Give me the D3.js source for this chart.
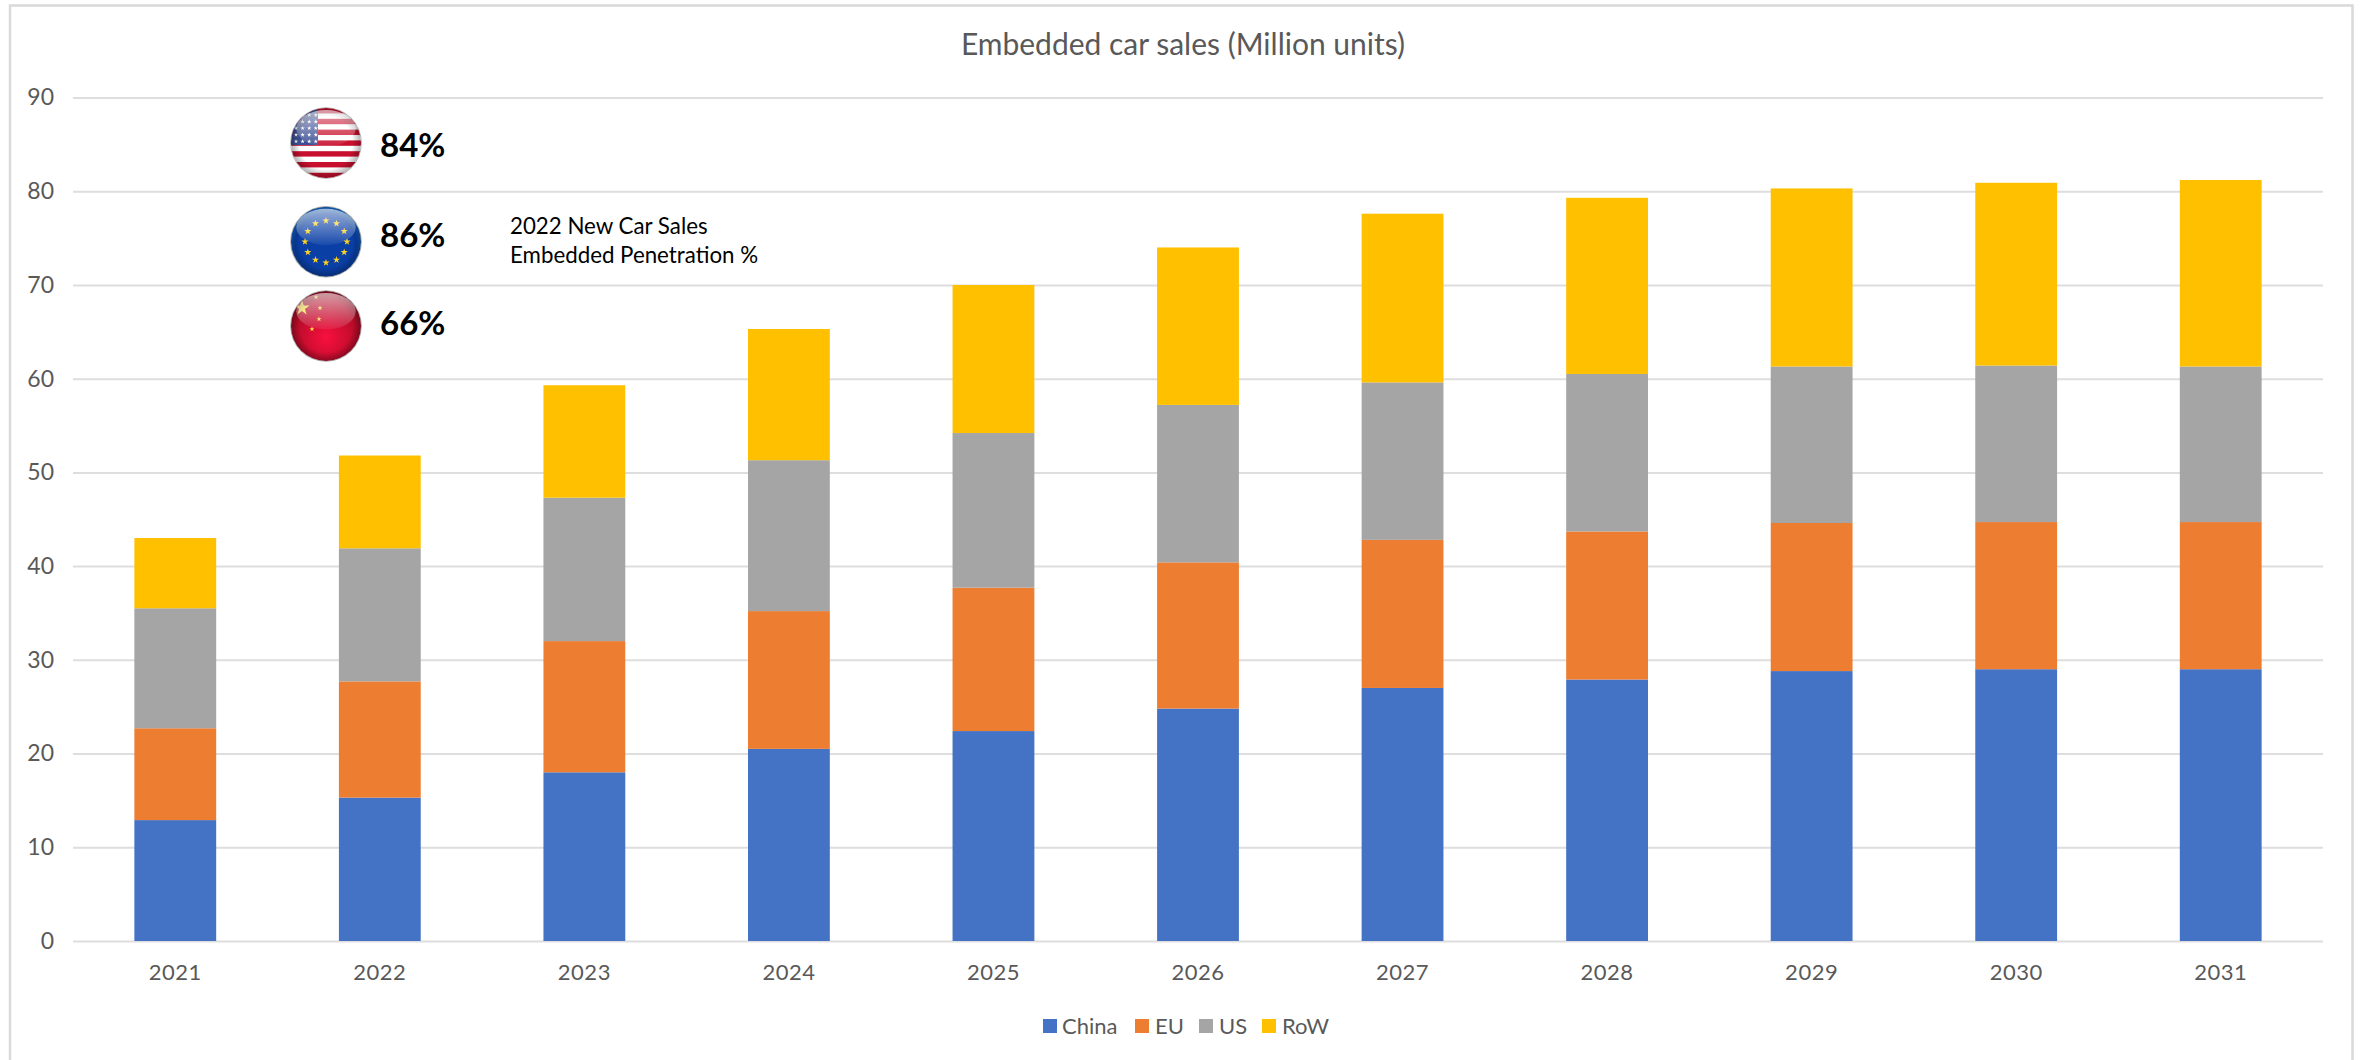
<!DOCTYPE html>
<html>
<head>
<meta charset="utf-8">
<script src="https://cdn.jsdelivr.net/npm/d3@7"></script>
<style>
  html, body { margin: 0; padding: 0; background: #fff; }
  svg { display: block; }
  text { font-family: Lato, "Open Sans", sans-serif; }
</style>
</head>
<body>
<svg id="chart" width="2361" height="1060"></svg>
<script>
// Embedded car sales by region, million units per year
const years = ["2021","2022","2023","2024","2025","2026","2027","2028","2029","2030","2031"];
const china = [12.9,15.3,18.0,20.5,22.4,24.8,27.0,27.9,28.8,29.0,29.0];
const eu    = [ 9.8,12.4,14.0,14.7,15.3,15.6,15.8,15.8,15.8,15.7,15.7];
const us    = [12.8,14.2,15.3,16.1,16.5,16.8,16.8,16.8,16.7,16.7,16.6];
const row   = [ 7.5, 9.9,12.0,14.0,15.8,16.8,18.0,18.8,19.0,19.5,19.9];
const seriesNames = ["China","EU","US","RoW"];
const seriesColors = ["#4472C4","#ED7D31","#A5A5A5","#FFC000"];
const yTicks = [0,10,20,30,40,50,60,70,80,90];

// Penetration call-outs
const penetrationLabels = ["84%","86%","66%"];
const noteLines = ["2022 New Car Sales","Embedded Penetration %"];

const svg = d3.select("#chart");
const plotLeft = 73, plotRight = 2323, plotTop = 97.5, plotBottom = 941;

const x = d3.scaleBand().domain(years).range([plotLeft, plotRight]).paddingInner(0.6).paddingOuter(0.3);
const y = d3.scaleLinear().domain([0, 90]).range([plotBottom, plotTop]);

const rows = years.map((year, i) => ({ year, China: china[i], EU: eu[i], US: us[i], RoW: row[i] }));
const stacked = d3.stack().keys(seriesNames)(rows);

// Outer chart frame, open along the bottom edge
svg.append("path")
  .attr("d", "M10,1060V5.5H2352.5V1060")
  .attr("fill", "none").attr("stroke", "#D9D9D9").attr("stroke-width", 2.5);

svg.append("text")
  .attr("x", 1183).attr("y", 55).attr("text-anchor", "middle")
  .attr("font-size", 30).attr("fill", "#595959")
  .text("Embedded car sales (Million units)");

// Gridlines and value labels
const yAxis = svg.append("g").attr("transform", `translate(${plotLeft},0)`)
  .call(d3.axisLeft(y).tickValues(yTicks).tickSize(-(plotRight - plotLeft)).tickPadding(19));
yAxis.select(".domain").remove();
yAxis.selectAll(".tick line").attr("stroke", "#DEDEDE").attr("stroke-width", 2);
yAxis.selectAll(".tick text").attr("font-size", 23).attr("fill", "#595959")
  .style("font-family", "Lato");

// Stacked bars
svg.append("g").selectAll("g").data(stacked).join("g")
  .attr("fill", (d, i) => seriesColors[i])
  .selectAll("rect").data(d => d).join("rect")
  .attr("x", d => x(d.data.year))
  .attr("width", x.bandwidth())
  .attr("y", d => y(d[1]))
  .attr("height", d => y(d[0]) - y(d[1]));

// Category labels
const xAxis = svg.append("g").attr("transform", `translate(0,${plotBottom})`)
  .call(d3.axisBottom(x).tickSize(0).tickPadding(23));
xAxis.select(".domain").remove();
xAxis.selectAll(".tick text").attr("font-size", 22).attr("fill", "#595959")
  .attr("letter-spacing", 0.5).style("font-family", "Lato");

// Legend
const legendItems = [
  { at: 1043, text: 1062 },
  { at: 1135, text: 1155 },
  { at: 1199, text: 1219 },
  { at: 1262, text: 1282 }
];
const legend = svg.append("g");
seriesNames.forEach((name, i) => {
  legend.append("rect").attr("x", legendItems[i].at).attr("y", 1019)
    .attr("width", 14).attr("height", 14).attr("fill", seriesColors[i]);
  legend.append("text").attr("x", legendItems[i].text).attr("y", 1034)
    .attr("font-size", 22).attr("fill", "#595959").text(name);
});

// Glossy badge shading
const defs = svg.append("defs");
const gloss = defs.append("linearGradient").attr("id", "gloss").attr("x1", 0).attr("x2", 0).attr("y1", 0).attr("y2", 1);
gloss.append("stop").attr("offset", 0).attr("stop-color", "#fff").attr("stop-opacity", 0.6);
gloss.append("stop").attr("offset", 1).attr("stop-color", "#fff").attr("stop-opacity", 0.06);
const rim = defs.append("radialGradient").attr("id", "rim").attr("cx", 0.5).attr("cy", 0.5).attr("r", 0.5);
rim.append("stop").attr("offset", 0.75).attr("stop-color", "#000").attr("stop-opacity", 0);
rim.append("stop").attr("offset", 1).attr("stop-color", "#000").attr("stop-opacity", 0.3);
const euBall = defs.append("radialGradient").attr("id", "euBall").attr("cx", 0.5).attr("cy", 0.55).attr("r", 0.55);
euBall.append("stop").attr("offset", 0).attr("stop-color", "#0a3fa6");
euBall.append("stop").attr("offset", 0.8).attr("stop-color", "#0a3fa6");
euBall.append("stop").attr("offset", 1).attr("stop-color", "#1a78e0");
const cnBall = defs.append("radialGradient").attr("id", "cnBall").attr("cx", 0.5).attr("cy", 0.66).attr("r", 0.62);
cnBall.append("stop").attr("offset", 0).attr("stop-color", "#f9103f");
cnBall.append("stop").attr("offset", 1).attr("stop-color", "#a10a22");

const badgeRadius = 35;
const star = d3.symbol().type(d3.symbolStar);
function badge(cx, cy, id, paint) {
  const R = badgeRadius;
  defs.append("clipPath").attr("id", id).append("circle").attr("r", R);
  const g = svg.append("g").attr("transform", `translate(${cx},${cy})`);
  g.append("circle").attr("r", R + 0.8).attr("fill", "#a8a8a8");
  const inner = g.append("g").attr("clip-path", `url(#${id})`);
  paint(inner, R);
  inner.append("circle").attr("r", R).attr("fill", "url(#rim)");
  inner.append("ellipse").attr("cy", -R * 0.42).attr("rx", R * 0.85).attr("ry", R * 0.52).attr("fill", "url(#gloss)");
}

badge(326, 143, "clip-us", (g, R) => {
  g.append("rect").attr("x", -R).attr("y", -R).attr("width", 2 * R).attr("height", 2 * R).attr("fill", "#fff");
  d3.range(7).forEach(i => {
    g.append("rect").attr("x", -R).attr("width", 2 * R)
      .attr("y", -R + i * 10.8).attr("height", 5.4).attr("fill", "#c8102e");
  });
  g.append("rect").attr("x", -R).attr("y", -R).attr("width", 27).attr("height", 37).attr("fill", "#3c4f94");
  d3.range(5).forEach(r => d3.range(4).forEach(c => {
    g.append("path").attr("d", star.size(6)())
      .attr("transform", `translate(${-30 + c * 6.6},${-28 + r * 6.6})`).attr("fill", "#fff");
  }));
});

badge(326, 241.7, "clip-eu", (g, R) => {
  g.append("circle").attr("r", R).attr("fill", "url(#euBall)");
  d3.range(12).forEach(i => {
    const a = i * Math.PI / 6;
    g.append("path").attr("d", star.size(16)())
      .attr("transform", `translate(${21 * Math.sin(a)},${21 * -Math.cos(a)})`).attr("fill", "#ffd21f");
  });
});

badge(326, 326, "clip-cn", (g, R) => {
  g.append("circle").attr("r", R).attr("fill", "url(#cnBall)");
  g.append("path").attr("d", star.size(70)()).attr("transform", "translate(-24,-18)").attr("fill", "#ffe14a");
  [[-10,-29],[-6,-18],[-7,-7],[-14,3]].forEach(p => {
    g.append("path").attr("d", star.size(8)())
      .attr("transform", `translate(${p[0]},${p[1]})`).attr("fill", "#ffe14a");
  });
});

// Penetration figures beside each badge
[157, 247, 335].forEach((baseline, i) => {
  svg.append("text").attr("x", 380).attr("y", baseline)
    .attr("font-size", 33).attr("font-weight", 700).attr("fill", "#000")
    .text(penetrationLabels[i]);
});

[234, 263].forEach((baseline, i) => {
  svg.append("text").attr("x", 510).attr("y", baseline)
    .attr("font-size", 22.3).attr("fill", "#000").text(noteLines[i]);
});
</script>
</body>
</html>
